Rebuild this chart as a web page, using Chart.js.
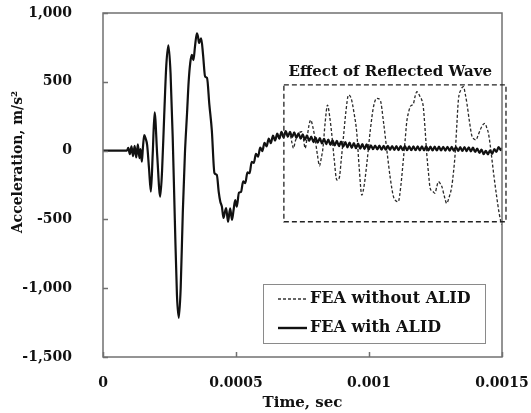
<!DOCTYPE html>
<html>
<head>
<meta charset="utf-8">
<script src="https://cdn.jsdelivr.net/npm/chart.js@4.4.1/dist/chart.umd.min.js"></script>
<style>
  html, body { margin: 0; padding: 0; background: #fff; }
</style>
</head>
<body>
<canvas id="accelChart" width="531" height="413"></canvas>
<script>
// time in microseconds, acceleration in m/s^2
let timeWithAlid = [
    0, 88, 90, 95, 101, 107, 113, 119, 125, 131, 137, 141, 146, 150, 155, 160, 166, 173, 180, 187,
    194, 204, 215, 222, 230, 238, 246, 254, 262, 270, 278, 285, 292, 300, 308, 316, 322, 328, 334, 340,
    346, 353, 357, 361, 365, 369, 376, 384, 391, 400, 409, 419, 428, 435, 441, 447, 453, 458, 463, 470,
    478, 485, 491, 497, 503,
    511, 519, 527, 535, 543, 551, 559, 567, 575, 583, 591, 599, 607, 615, 623, 631, 639, 647, 655, 663,
    671, 679, 687, 695, 703, 711, 719, 727, 735, 743, 751, 759, 767, 775, 783, 791, 799, 807, 815, 823,
    831, 839, 847, 855, 863, 871, 879, 887, 895, 903, 911, 919, 927, 935, 943, 951, 959, 967, 975, 983,
    991, 999, 1007, 1015, 1023, 1031, 1039, 1047, 1055, 1063, 1071, 1079, 1087, 1095, 1103, 1111, 1119, 1127, 1135, 1143,
    1151, 1159, 1167, 1175, 1183, 1191, 1199, 1207, 1215, 1223, 1231, 1239, 1247, 1255, 1263, 1271, 1279, 1287, 1295, 1303,
    1311, 1319, 1327, 1335, 1343, 1351, 1359, 1367, 1375, 1383, 1391, 1399, 1407, 1415, 1423, 1431, 1439, 1447, 1455, 1463,
    1471, 1479, 1487, 1495, 1500
];
let accelWithAlid = [
    0, 0, 0, 20, -25, 30, -40, 35, -50, 45, -55, 10, -80, 20, 113, 90, 40, -130, -299, -20,
    278, -40, -335, -150, 250, 620, 765, 560, 100, -500, -1050, -1215, -1000, -450, -20, 273, 500, 637, 695, 658,
    760, 852, 830, 782, 800, 816, 700, 537, 528, 330, 150, -163, -177, -300, -371, -407, -490, -450, -417, -517,
    -420, -504, -430, -359, -407,
    -306, -300, -224, -236, -158, -164, -82, -89, -23, -44, 22, -4, 57, 31, 87, 54, 109, 73, 124, 87,
    136, 95, 142, 101, 136, 98, 132, 93, 125, 86, 118, 78, 110, 70, 102, 62, 95, 57, 90, 52,
    85, 47, 80, 42, 75, 37, 70, 32, 66, 28, 62, 24, 58, 20, 55, 17, 51, 14, 48, 11,
    45, 8, 39, 10, 37, 9, 36, 7, 34, 6, 34, 5, 33, 5, 32, 4, 32, 4, 32, 3,
    31, 3, 31, 3, 30, 2, 30, 2, 30, 1, 29, 1, 29, 1, 29, 1, 28, 0, 28, -1,
    27, -2, 26, -2, 25, -3, 25, -4, 24, -5, 21, -10, 15, -17, 7, -26, -1, -27, 2, -24,
    11, -10, 26, 4, 18
];

let timeWithoutAlid = [
    663, 671, 679, 687, 695, 704, 710, 716, 723, 730, 738, 748, 754, 760, 767, 774, 781, 789, 798, 806,
    814, 820, 827, 835, 844, 852, 860, 869, 879, 888, 896, 904, 913, 923, 933, 944, 954, 963, 973, 982,
    992, 1005, 1017, 1029, 1042, 1055, 1067, 1080, 1092, 1101, 1110, 1120, 1129, 1136, 1142, 1149, 1155, 1161, 1167, 1174,
    1180, 1186, 1192, 1198, 1204, 1211, 1217, 1224, 1230, 1239, 1248, 1255, 1261, 1268, 1274, 1283, 1292, 1301, 1311, 1318,
    1324, 1330, 1336, 1345, 1355, 1362, 1368, 1377, 1386, 1394, 1402, 1410, 1418, 1427, 1436, 1442, 1449, 1455, 1461, 1470,
    1480, 1488, 1495, 1500
];
let accelWithoutAlid = [
    87, 130, 100, 140, 105, 110, 60, 17, 70, 100, 130, 137, 80, 17, 90, 180, 222, 170, 77, -30,
    -110, -60, 20, 200, 331, 250, 120, -60, -214, -200, -60, 100, 280, 404, 380, 270, 130, -120, -323, -250,
    -92, 150, 319, 380, 368, 200, 4, -200, -335, -365, -371, -250, -68, 80, 210, 280, 319, 330, 340, 400,
    428, 415, 392, 370, 319, 150, -20, -170, -274, -295, -310, -260, -226, -240, -262, -330, -383, -340, -262, -150,
    -20, 180, 368, 440, 464, 410, 344, 220, 113, 85, 77, 110, 150, 185, 198, 170, 126, 50, -44, -190,
    -335, -440, -510, -540
];

let xTickValues = [0, 0.0005, 0.001, 0.0015];
let xTickLabels = ["0", "0.0005", "0.001", "0.0015"];
let yTickValues = [-1500, -1000, -500, 0, 500, 1000];
let yTickLabels = ["-1,500", "-1,000", "-500", "0", "500", "1,000"];

let seriesNames = ["FEA without ALID", "FEA with ALID"];

// dashed box around the late part of the record (sec, m/s^2)
let reflectedBox = { x0: 0.00068, x1: 0.001515, y0: 477, y1: -517 };
let reflectedText = "Effect of Reflected Wave";

let serif = "'DejaVu Serif', 'Liberation Serif', serif";
let inkColor = "#111111";
let frameColor = "#707070";

function toPoints(times, values) {
    return times.map((t, i) => ({ x: t / 1e6, y: values[i] }));
}

let framePlugin = {
    id: "frameAndNotes",
    afterDraw(chart) {
        let ctx = chart.ctx;
        let area = chart.chartArea;
        let xs = chart.scales.x;
        let ys = chart.scales.y;
        ctx.save();

        // plot frame
        ctx.strokeStyle = frameColor;
        ctx.lineWidth = 1.5;
        ctx.strokeRect(area.left, area.top, area.right - area.left, area.bottom - area.top);

        // inward tick marks
        ctx.beginPath();
        yTickValues.forEach(v => {
            let py = Math.round(ys.getPixelForValue(v)) + 0.5;
            ctx.moveTo(area.left, py);
            ctx.lineTo(area.left + 5, py);
        });
        xTickValues.forEach(v => {
            let px = Math.round(xs.getPixelForValue(v)) + 0.5;
            ctx.moveTo(px, area.bottom);
            ctx.lineTo(px, area.bottom - 5);
        });
        ctx.stroke();

        // reflected wave box
        let bx0 = xs.getPixelForValue(reflectedBox.x0);
        let bx1 = xs.getPixelForValue(reflectedBox.x1);
        let by0 = ys.getPixelForValue(reflectedBox.y0);
        let by1 = ys.getPixelForValue(reflectedBox.y1);
        ctx.strokeStyle = "#222222";
        ctx.lineWidth = 1.3;
        ctx.setLineDash([5, 3]);
        ctx.strokeRect(bx0, by0, bx1 - bx0, by1 - by0);
        ctx.setLineDash([]);

        ctx.fillStyle = inkColor;
        ctx.font = "bold 15px " + serif;
        ctx.textAlign = "center";
        ctx.textBaseline = "middle";
        ctx.fillText(reflectedText, xs.getPixelForValue(0.00108), ys.getPixelForValue(571));

        // legend box
        let lx1 = area.right - 17;
        let ly1 = area.bottom - 14;
        let lx0 = lx1 - 222;
        let ly0 = ly1 - 59;
        ctx.fillStyle = "#ffffff";
        ctx.fillRect(lx0, ly0, lx1 - lx0, ly1 - ly0);
        ctx.strokeStyle = "#8a8a8a";
        ctx.lineWidth = 1;
        ctx.strokeRect(lx0 + 0.5, ly0 + 0.5, lx1 - lx0, ly1 - ly0);

        let rows = [ly0 + 15, ly0 + 44];
        ctx.strokeStyle = "#333333";
        ctx.lineWidth = 1.3;
        ctx.setLineDash([3, 2]);
        ctx.beginPath();
        ctx.moveTo(lx0 + 15, rows[0]);
        ctx.lineTo(lx0 + 44, rows[0]);
        ctx.stroke();
        ctx.setLineDash([]);
        ctx.strokeStyle = inkColor;
        ctx.lineWidth = 2.4;
        ctx.beginPath();
        ctx.moveTo(lx0 + 15, rows[1]);
        ctx.lineTo(lx0 + 44, rows[1]);
        ctx.stroke();

        ctx.fillStyle = inkColor;
        ctx.font = "bold 16px " + serif;
        ctx.textAlign = "left";
        ctx.fillText(seriesNames[0], lx0 + 47, rows[0]);
        ctx.fillText(seriesNames[1], lx0 + 47, rows[1]);

        // y axis title
        ctx.translate(18, 162);
        ctx.rotate(-Math.PI / 2);
        ctx.font = "bold 14px " + serif;
        ctx.textAlign = "center";
        ctx.fillText("Acceleration, m/s\u00b2", 0, 0);

        ctx.restore();
    }
};

new Chart(document.getElementById("accelChart"), {
    type: "line",
    data: {
        datasets: [
            {
                label: seriesNames[1],
                data: toPoints(timeWithAlid, accelWithAlid),
                borderColor: inkColor,
                borderWidth: 2.2,
                cubicInterpolationMode: "monotone",
                pointRadius: 0
            },
            {
                label: seriesNames[0],
                data: toPoints(timeWithoutAlid, accelWithoutAlid),
                borderColor: "#2a2a2a",
                borderWidth: 1.3,
                borderDash: [3, 2],
                cubicInterpolationMode: "monotone",
                pointRadius: 0
            }
        ]
    },
    options: {
        responsive: false,
        animation: false,
        layout: { padding: { top: 13, right: 29, left: 0, bottom: 0 } },
        plugins: {
            legend: { display: false },
            tooltip: { enabled: false }
        },
        scales: {
            x: {
                type: "linear",
                min: 0,
                max: 0.0015,
                grid: { display: false },
                border: { display: false },
                afterBuildTicks: scale => { scale.ticks = xTickValues.map(v => ({ value: v })); },
                afterFit: scale => {
                    scale.height = 56;
                    scale.paddingLeft = 0;
                    scale.paddingRight = 0;
                },
                ticks: {
                    color: inkColor,
                    font: { family: serif, size: 14, weight: "bold" },
                    padding: 10,
                    maxRotation: 0,
                    callback: (value, index) => xTickLabels[index]
                },
                title: {
                    display: true,
                    text: "Time, sec",
                    color: inkColor,
                    font: { family: serif, size: 15, weight: "bold" },
                    padding: { top: 0, bottom: 1 }
                }
            },
            y: {
                min: -1500,
                max: 1000,
                grid: { display: false },
                border: { display: false },
                afterBuildTicks: scale => { scale.ticks = yTickValues.map(v => ({ value: v })); },
                afterFit: scale => {
                    scale.width = 103;
                    scale.paddingTop = 0;
                    scale.paddingBottom = 0;
                },
                ticks: {
                    color: inkColor,
                    font: { family: serif, size: 14, weight: "bold" },
                    padding: 23,
                    callback: (value, index) => yTickLabels[index]
                }
            }
        }
    },
    plugins: [framePlugin]
});
</script>
</body>
</html>
